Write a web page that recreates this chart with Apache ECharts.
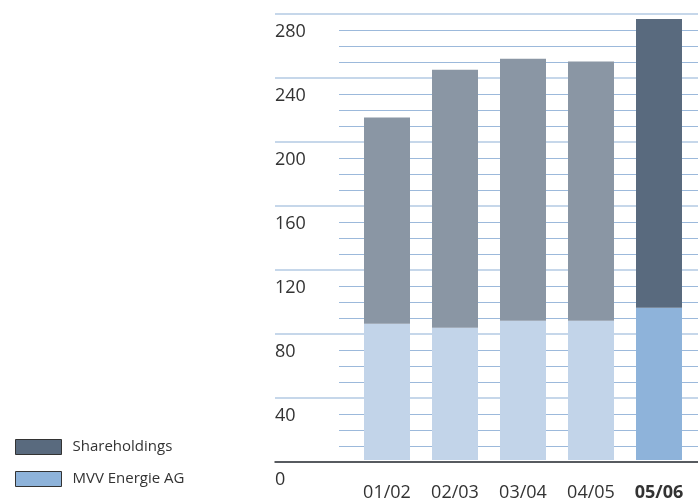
<!DOCTYPE html>
<html>
<head>
<meta charset="utf-8">
<script src="https://cdn.jsdelivr.net/npm/echarts@6/dist/echarts.min.js"></script>
<style>
  html, body { margin: 0; padding: 0; background: #fff; }
  #chart { width: 698px; height: 502px; }
</style>
</head>
<body>
<div id="chart"></div>
<script>
// Fiscal years and the two stacked components (values in € million)
const years = ['01/02', '02/03', '03/04', '04/05', '05/06'];
const mvvEnergie = [85.6, 83.1, 87.5, 87.5, 95.6];
const shareholdings = [129.4, 161.9, 164.4, 162.7, 181.3];
const yTicks = [0, 40, 80, 120, 160, 200, 240, 280];

const FONT = '"Open Sans", "Noto Sans", sans-serif';
const TEXT = '#333333';

// Earlier years are muted, the current year is highlighted
const colMvvOld = '#c2d4e9', colMvvNow = '#8eb3da';
const colShOld = '#8a96a4', colShNow = '#596a7e';
const last = years.length - 1;

// axis parts all switched off; individual axes turn back on what they draw
function bare() {
  return {
    axisLine: { show: false }, axisTick: { show: false }, axisLabel: { show: false },
    splitLine: { show: false }, splitArea: { show: false },
    minorTick: { show: false }, minorSplitLine: { show: false }
  };
}

const chart = echarts.init(document.getElementById('chart'));

chart.setOption({
  animation: false,
  backgroundColor: '#ffffff',
  grid: [
    // major lines + labels + baseline
    { left: 275, right: 0, top: 14, bottom: 40, show: false },
    // minor lines
    { left: 339, right: 0, top: 14, bottom: 40, show: false },
    // bars
    { left: 353, right: 5, top: 14, bottom: 40, show: false }
  ],
  xAxis: [
    Object.assign({ gridIndex: 0, type: 'category', data: [''] }, bare(), {
      axisLine: { show: true, onZero: false, lineStyle: { color: '#333', width: 1.5 } }
    }),
    Object.assign({ gridIndex: 1, type: 'category', data: [''] }, bare()),
    Object.assign({ gridIndex: 2, type: 'category', data: years }, bare(), {
      axisLabel: {
        show: true, interval: 0, margin: 24, fontFamily: FONT, fontSize: 18, color: TEXT,
        formatter: (v) => v === years[last] ? '{b|' + v + '}' : v,
        rich: { b: { fontFamily: FONT, fontSize: 18, fontWeight: 'bold', color: TEXT } }
      }
    })
  ],
  yAxis: [
    Object.assign({ gridIndex: 0, type: 'value', min: 0, max: 280, interval: 40 }, bare(), {
      axisLabel: {
        show: true, inside: true, margin: 0, align: 'left', verticalAlign: 'top',
        padding: [9, 0, 0, 0], fontFamily: FONT, fontSize: 18, color: TEXT,
        formatter: (v) => yTicks.includes(v) ? String(v) : ''
      },
      splitLine: { show: true, lineStyle: { color: '#c6d7ea', width: 2 } }
    }),
    Object.assign({ gridIndex: 1, type: 'value', min: 0, max: 280, interval: 40 }, bare(), {
      minorTick: { show: false, splitNumber: 4 },
      minorSplitLine: { show: true, lineStyle: { color: '#9cb9db', width: 1 } }
    }),
    Object.assign({ gridIndex: 2, type: 'value', min: 0, max: 280 }, bare())
  ],
  legend: {
    orient: 'vertical', left: 10, top: 434,
    itemWidth: 46, itemHeight: 15, itemGap: 16,
    icon: 'rect',
    textStyle: { fontFamily: FONT, fontSize: 15, color: TEXT, padding: [0, 0, 0, 6] },
    itemStyle: { borderColor: '#333', borderWidth: 1 },
    data: ['Shareholdings', 'MVV Energie AG']
  },
  series: [
    {
      name: 'MVV Energie AG', type: 'bar', stack: 'total',
      xAxisIndex: 2, yAxisIndex: 2, barWidth: 46,
      itemStyle: { color: colMvvNow },
      data: mvvEnergie.map((v, i) => ({ value: v, itemStyle: { color: i === last ? colMvvNow : colMvvOld } }))
    },
    {
      name: 'Shareholdings', type: 'bar', stack: 'total',
      xAxisIndex: 2, yAxisIndex: 2, barWidth: 46,
      itemStyle: { color: colShNow },
      data: shareholdings.map((v, i) => ({ value: v, itemStyle: { color: i === last ? colShNow : colShOld } }))
    }
  ]
});
</script>
</body>
</html>
